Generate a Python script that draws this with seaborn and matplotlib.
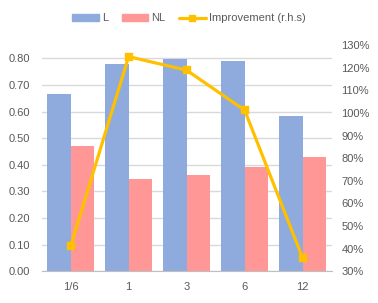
import numpy as np
import pandas as pd
import matplotlib
matplotlib.use("Agg")
import matplotlib.pyplot as plt
from matplotlib.patches import Patch
from matplotlib.lines import Line2D
import seaborn as sns

categories = ["1/6", "1", "3", "6", "12"]
l_values = [0.667, 0.779, 0.798, 0.791, 0.584]
nl_values = [0.470, 0.347, 0.362, 0.392, 0.430]
improvement = [0.41, 1.249, 1.189, 1.012, 0.358]

blue = "#8FAADC"
pink = "#FF9797"
gold = "#FFC000"
txt = "#595959"

sns.set_style("white")
plt.rcParams['font.family'] = ['Liberation Sans', 'DejaVu Sans']

df = pd.DataFrame({
    "cat": categories * 2,
    "val": l_values + nl_values,
    "series": ["L"] * len(categories) + ["NL"] * len(categories),
})

fig = plt.figure(figsize=(3.78, 3.03), dpi=100)
ax = fig.add_axes([0.110, 0.1046, 0.7675, 0.7466])

sns.barplot(data=df, x="cat", y="val", hue="series", order=categories,
            palette=[blue, pink], width=0.8, saturation=1, linewidth=0,
            ax=ax, legend=False)
ax.set_xlim(-0.5, len(categories) - 0.5)
ax.set_ylim(0, 0.85)
ax.set_yticks(np.arange(0, 0.81, 0.1))
ax.set_yticklabels([f"{v:.2f}" for v in np.arange(0, 0.81, 0.1)])
ax.grid(axis="y", color="#D9D9D9", linewidth=1)
ax.set_axisbelow(True)
for s in ["top", "right", "left"]:
    ax.spines[s].set_visible(False)
ax.spines["bottom"].set_color("#BFBFBF")
ax.tick_params(axis="both", length=0, colors=txt, labelsize=8)
ax.tick_params(axis="y", pad=8)
ax.tick_params(axis="x", pad=8)
ax.set_xlabel("")
ax.set_ylabel("")

ax2 = ax.twinx()
sns.pointplot(x=categories, y=improvement, order=categories, color=gold,
              markers="s", markersize=5, linewidth=2.3, errorbar=None, ax=ax2)
ax2.set_xlim(-0.5, len(categories) - 0.5)
ax2.set_ylim(0.3, 1.3)
ticks = np.arange(0.3, 1.31, 0.1)
ax2.set_yticks(ticks)
ax2.set_yticklabels([f"{round(t * 100)}%" for t in ticks])
for s in ["top", "right", "left", "bottom"]:
    ax2.spines[s].set_visible(False)
ax2.tick_params(axis="y", length=0, colors=txt, labelsize=8, pad=7)
ax2.set_ylabel("")

handles = [
    Patch(color=blue, label="L"),
    Patch(color=pink, label="NL"),
    Line2D([0], [0], color=gold, linewidth=2.3, marker="s", markersize=5,
           label="Improvement (r.h.s)"),
]
leg = fig.legend(handles=handles, loc="center", bbox_to_anchor=(0.5, 0.94),
                 ncol=3, frameon=False, fontsize=8, handlelength=2.4,
                 handleheight=0.55, handletextpad=0.3, columnspacing=1.2)
for t in leg.get_texts():
    t.set_color(txt)

fig.savefig("out.png", dpi=100)
